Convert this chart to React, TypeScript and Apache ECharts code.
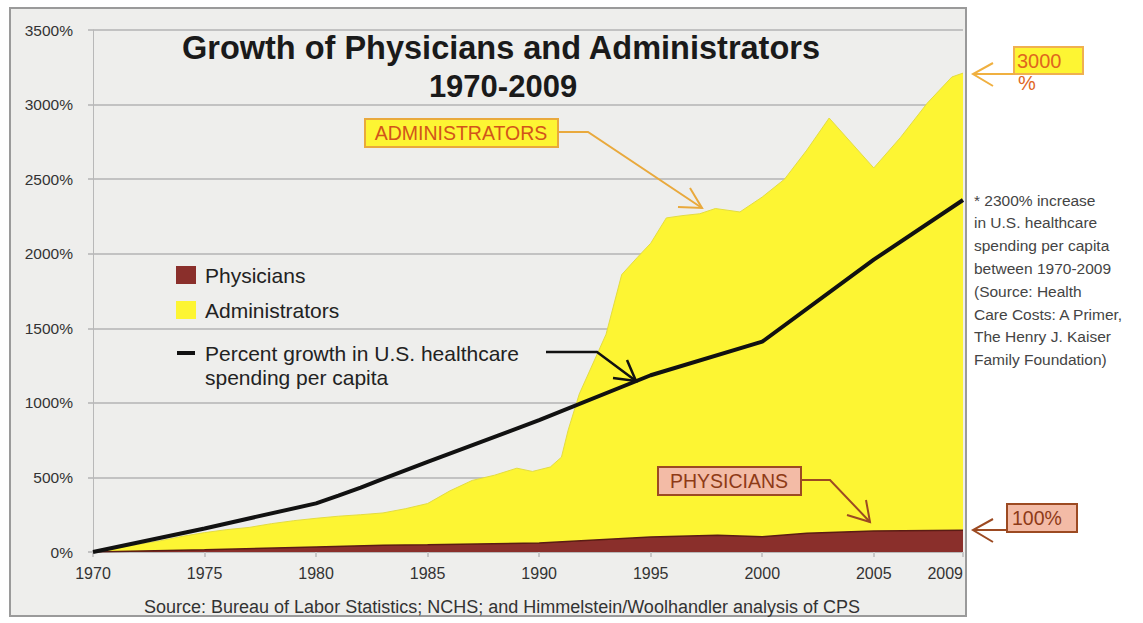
import React, { useEffect, useRef } from "react";
import * as echarts from "echarts";

// ---- Data (percent growth since 1970) ----
const adminYears = [1970, 1971, 1972, 1973, 1974, 1975, 1976, 1977, 1978, 1979, 1980, 1981, 1982, 1983, 1984, 1985, 1986, 1987, 1988, 1989, 1989.7, 1990.5, 1991, 1991.3, 1991.8, 1993, 1993.7, 1994.4, 1995, 1995.7, 1996.4, 1997.2, 1997.9, 1999, 2000, 2001, 2002, 2003, 2005, 2006.2, 2007.4, 2008.5, 2009];
const adminValues = [0, 25, 50, 75, 105, 130, 150, 165, 190, 210, 226, 240, 250, 262, 290, 325, 410, 480, 515, 562, 540, 570, 636, 817, 1060, 1460, 1860, 1975, 2070, 2240, 2255, 2268, 2303, 2280, 2380, 2500, 2695, 2910, 2575, 2780, 3010, 3185, 3211];

const physYears = [1970, 1975, 1980, 1983, 1985, 1990, 1995, 1998, 2000, 2002, 2005, 2009];
const physValues = [0, 15, 34, 45, 48, 60, 100, 112, 102, 125, 140, 146];

const spendYears = [1970, 1975, 1980, 1981, 1982, 1983, 1985, 1990, 1995, 2000, 2005, 2009];
const spendValues = [0, 158, 326, 378, 432, 490, 605, 884, 1185, 1410, 1960, 2360];

const yTicks = { min: 0, max: 3500, interval: 500 };
const xRange = { min: 1970, max: 2009, interval: 5 };

const title1 = "Growth of Physicians and Administrators";
const title2 = "1970-2009";
const sourceText = "Source: Bureau of Labor Statistics; NCHS; and Himmelstein/Woolhandler analysis of CPS";
const noteLines = [
  "* 2300% increase",
  "in U.S. healthcare",
  "spending per capita",
  "between 1970-2009",
  "(Source: Health",
  "Care Costs: A Primer,",
  "The Henry J. Kaiser",
  "Family Foundation)",
];

const FONT = '"Liberation Sans", Arial, Helvetica, sans-serif';
const YELLOW = "#fdf533";
const BROWN = "#8a2f2b";

const pairs = (xs: number[], ys: number[]) => xs.map((x, i) => [x, ys[i]]);

export default function App() {
  const ref = useRef<HTMLDivElement>(null);
  useEffect(() => {
    document.body.style.margin = "0";
    const chart = echarts.init(ref.current!, null, { renderer: "svg" });
    const txt = (text: string, x: number, y: number, size: number, fill: string, align = "left", weight = "normal") => ({
      type: "text",
      z: 100,
      style: {
        text,
        x,
        y,
        font: `${weight} ${size}px ${FONT}`,
        fill,
        textAlign: align,
        textVerticalAlign: "middle",
      },
    });
    const poly = (points: number[][], stroke: string, lw = 2) => ({
      type: "polyline",
      z: 100,
      shape: { points },
      style: { stroke, lineWidth: lw, fill: null },
    });
    const box = (x: number, y: number, w: number, h: number, fill: string, stroke: string) => ({
      type: "rect",
      z: 99,
      shape: { x, y, width: w, height: h },
      style: { fill, stroke, lineWidth: 2 },
    });
    const ADM_ORANGE = "#e9a93c";
    const PHY_BROWN = "#9c4a22";

    chart.setOption({
      animation: false,
      grid: { left: 93, right: 180, top: 30, bottom: 71, containLabel: false },
      xAxis: {
        type: "value",
        min: xRange.min,
        max: xRange.max,
        interval: xRange.interval,
        axisLine: { show: true, lineStyle: { color: "#b8b8b8", width: 1 } },
        axisTick: { show: true, length: 5, lineStyle: { color: "#c8c8c8", width: 2 } },
        splitLine: { show: false },
        axisLabel: {
          formatter: (v: number) => String(v),
          color: "#333",
          fontFamily: FONT,
          fontSize: 16,
          margin: 13,
          alignMaxLabel: "right",
          showMaxLabel: true,
          hideOverlap: false,
        },
      },
      yAxis: {
        type: "value",
        min: yTicks.min,
        max: yTicks.max,
        interval: yTicks.interval,
        axisLine: { show: true, lineStyle: { color: "#b8b8b8", width: 1 } },
        axisTick: { show: true, length: 5, lineStyle: { color: "#c2c2c2", width: 2 } },
        splitLine: { show: true, lineStyle: { color: "#c2c2c2", width: 2 } },
        axisLabel: {
          formatter: (v: number) => `${v}%`,
          color: "#333",
          fontFamily: FONT,
          fontSize: 15.5,
          margin: 20,
        },
      },
      series: [
        {
          name: "Administrators",
          type: "line",
          data: pairs(adminYears, adminValues),
          showSymbol: false,
          z: 2,
          lineStyle: { color: "#e3dc40", width: 1 },
          areaStyle: { color: YELLOW, opacity: 1 },
        },
        {
          name: "Physicians",
          type: "line",
          data: pairs(physYears, physValues),
          showSymbol: false,
          z: 3,
          lineStyle: { color: "#5a1c14", width: 1.5 },
          areaStyle: { color: BROWN, opacity: 1 },
        },
        {
          name: "Percent growth in U.S. healthcare spending per capita",
          type: "line",
          data: pairs(spendYears, spendValues),
          showSymbol: false,
          z: 4,
          lineStyle: { color: "#111", width: 4 },
        },
      ],
      graphic: [
        txt(title1, 501, 48, 32.5, "#1a1a1a", "center", "bold"),
        txt(title2, 503, 86, 31, "#1a1a1a", "center", "bold"),
        // legend
        box(177, 267, 18, 16, BROWN, BROWN),
        txt("Physicians", 205, 275, 21, "#222"),
        box(177, 302, 18, 16, YELLOW, YELLOW),
        txt("Administrators", 205, 310, 21, "#222"),
        { type: "rect", z: 99, shape: { x: 177, y: 351, width: 18, height: 4 }, style: { fill: "#111" } },
        txt("Percent growth in U.S. healthcare", 205, 353, 21, "#222"),
        txt("spending per capita", 205, 377, 21, "#222"),
        poly([[546, 352], [597, 352], [636, 381]], "#111", 2.5),
        poly([[613, 378], [636, 381], [627, 360]], "#111", 2.5),
        // ADMINISTRATORS callout
        box(365, 119, 193, 28, YELLOW, ADM_ORANGE),
        txt("ADMINISTRATORS", 461, 133, 19.5, "#d2541a", "center"),
        poly([[558, 132], [588, 132], [702, 208]], ADM_ORANGE),
        poly([[678, 207], [702, 208], [690, 188]], ADM_ORANGE),
        // PHYSICIANS callout
        box(658, 467, 143, 28, "#f3bba6", PHY_BROWN),
        txt("PHYSICIANS", 729, 481, 19.5, "#8e3a16", "center"),
        poly([[801, 480], [830, 480], [870, 522]], PHY_BROWN),
        poly([[847, 515], [870, 522], [866, 500]], PHY_BROWN),
        // 100% callout
        box(1007, 504, 70, 28, "#f3bba6", PHY_BROWN),
        txt("100%", 1012, 518, 19.5, "#8e3a16"),
        poly([[1007, 530], [973, 530]], PHY_BROWN),
        poly([[993, 519], [973, 530], [993, 542]], PHY_BROWN),
        // 3000% callout
        box(1014, 47, 69, 27, YELLOW, "#f0b050"),
        txt("3000", 1017, 61, 20, "#e0661e"),
        txt("%", 1018, 83, 20, "#e0661e"),
        poly([[1015, 74], [973, 74]], "#f0b040"),
        poly([[993, 63], [973, 74], [993, 86]], "#f0b040"),
        // notes
        ...noteLines.map((l, i) => txt(l, 974, 200 + i * 22.8, 15.5, "#444")),
        // source
        txt(sourceText, 502, 607, 18, "#333", "center"),
      ],
    });
    return () => chart.dispose();
  }, []);
  return (
    <div style={{ position: "relative", width: 1143, height: 623, background: "#fff", overflow: "hidden" }}>
      <div
        style={{
          position: "absolute",
          left: 9,
          top: 7,
          width: 954,
          height: 606,
          background: "#eeeeec",
          border: "2px solid #9a9a9a",
        }}
      />
      <div ref={ref} style={{ position: "absolute", left: 0, top: 0, width: 1143, height: 623 }} />
    </div>
  );
}
